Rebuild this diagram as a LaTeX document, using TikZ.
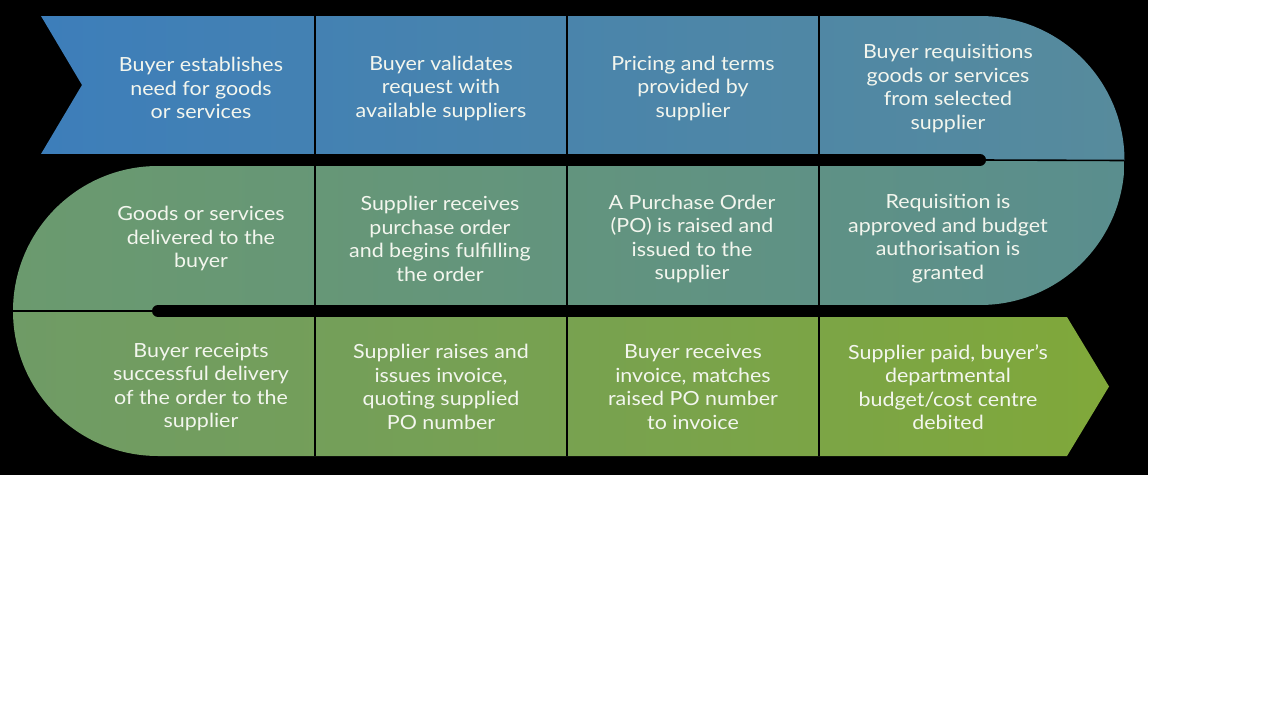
\documentclass[tikz,border=0pt]{standalone}
\usepackage{fontspec}
\setmainfont{Lato}[FakeStretch=1.10]
\begin{document}
\begin{tikzpicture}[x=1pt,y=1pt,
  lbl/.style={text=txtc,align=center,font=\fontsize{19.5}{23.5}\selectfont},
  divider/.style={draw=black,line width=2},
  thin/.style={draw=black,line width=1.6},
  gapbar/.style={draw=black,line width=12,line cap=round}]
\definecolor{txtc}{HTML}{F3F6EE}
\definecolor{ra}{HTML}{3D7EBA}
\definecolor{rb}{HTML}{578B9C}
\definecolor{rc}{HTML}{5A8E8E}
\definecolor{rd}{HTML}{6B9A6E}
\definecolor{re}{HTML}{6F9B66}
\definecolor{rf}{HTML}{80A83A}
\useasboundingbox (0,0) rectangle (1278,-720);
\fill[white] (0,0) rectangle (1278,-720);
\fill[black] (0,0) rectangle (1148,-475);
% row 1
\shade[left color=ra,right color=rb]
  (41,-16) -- (980,-16) arc[start angle=90,end angle=0,radius=144.5]
  -- (980,-160.5) -- (980,-154) -- (41,-154) -- (82,-85) -- cycle;
% row 2
\shade[left color=rd,right color=rc]
  (980,-160.5) -- (1124.5,-160.5) arc[start angle=0,end angle=-90,radius=144.5]
  -- (158,-305) -- (158,-311) -- (13,-311) arc[start angle=180,end angle=90,radius=145]
  -- (980,-166) -- cycle;
% row 3
\shade[left color=re,right color=rf]
  (158,-311) -- (13,-311) arc[start angle=180,end angle=270,radius=145]
  -- (1067,-456) -- (1109,-386.5) -- (1067,-317) -- (158,-317) -- cycle;
% gaps and dividers
\coordinate (g1a) at (6,-160);
\coordinate (g1b) at (980,-160);
\coordinate (g1c) at (1124.5,-160.5);
\coordinate (g2a) at (158,-311);
\coordinate (g2b) at (1142,-311);
\coordinate (g2c) at (13,-311);
\draw[gapbar] (g1a) -- (g1b);
\draw[gapbar] (g2a) -- (g2b);
\draw[thin] (g1b) -- (g1c);
\draw[thin] (g2a) -- (g2c);
\foreach \x in {315,567,819}{
  \draw[divider] (\x,-16) -- (\x,-154);
  \draw[divider] (\x,-166) -- (\x,-305);
  \draw[divider] (\x,-317) -- (\x,-456);
}
% texts
\node[lbl] (s1) at (201,-88) {Buyer establishes\\need for goods\\or services};
\node[lbl] (s2) at (441,-88) {Buyer validates\\request with\\available suppliers};
\node[lbl] (s3) at (693,-88) {Pricing and terms\\provided by\\supplier};
\node[lbl] (s4) at (948,-88.5) {Buyer requisitions\\goods or services\\from selected\\supplier};
\node[lbl] (s5) at (948,-238.5) {Requisition is\\approved and budget\\authorisation is\\granted};
\node[lbl] (s6) at (692,-239) {A Purchase Order\\(PO) is raised and\\issued to the\\supplier};
\node[lbl] (s7) at (440,-239) {Supplier receives\\purchase order\\and begins fulfilling\\the order};
\node[lbl] (s8) at (201,-238.5) {Goods or services\\delivered to the\\buyer};
\node[lbl] (s9) at (201,-387) {Buyer receipts\\successful delivery\\of the order to the\\supplier};
\node[lbl] (s10) at (441,-387) {Supplier raises and\\issues invoice,\\quoting supplied\\PO number};
\node[lbl] (s11) at (693,-387) {Buyer receives\\invoice, matches\\raised PO number\\to invoice};
\node[lbl] (s12) at (948,-387) {Supplier paid, buyer’s\\departmental\\budget/cost centre\\debited};
\end{tikzpicture}
\end{document}
